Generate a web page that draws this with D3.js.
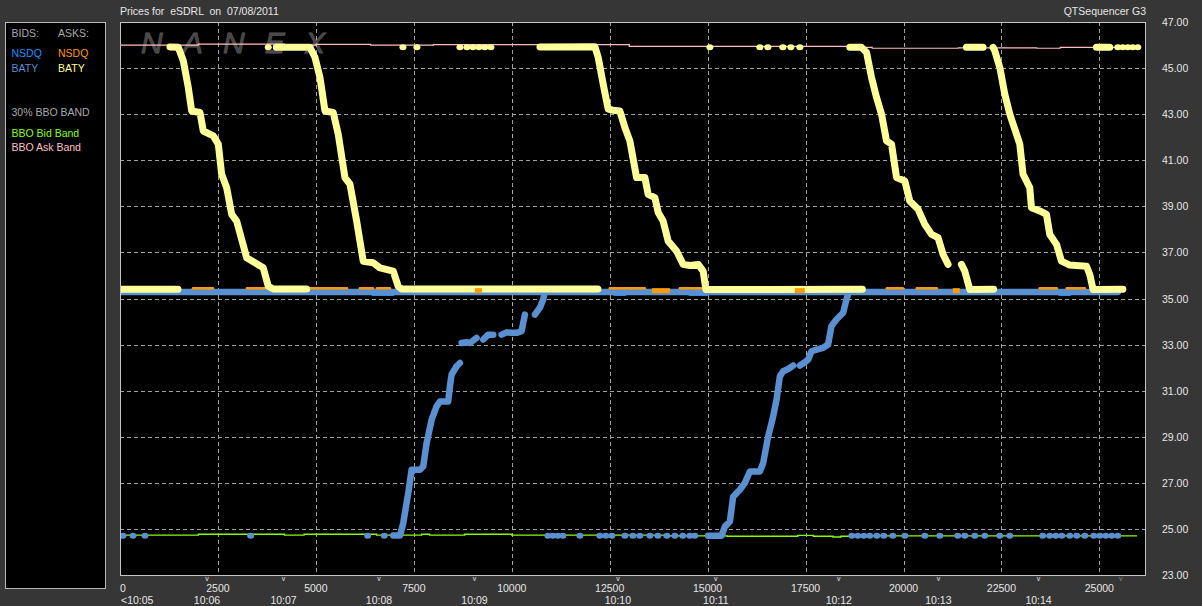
<!DOCTYPE html>
<html><head><meta charset="utf-8">
<script src="https://cdn.jsdelivr.net/npm/d3@7"></script>
<style>
html,body{margin:0;padding:0;background:#363636;}
svg{display:block;font-family:"Liberation Sans",Arial,sans-serif;}
</style></head><body>
<svg id="c" width="1202" height="606"></svg>
<script>
// ---------------- data ----------------
const titleText = "Prices for  eSDRL  on  07/08/2011";
const sourceText = "QTSequencer G3";
const yTicks = [23, 25, 27, 29, 31, 33, 35, 37, 39, 41, 43, 45, 47];
const xTicks = [0, 2500, 5000, 7500, 10000, 12500, 15000, 17500, 20000, 22500, 25000];
const timeMarkSeq = [2220, 4175, 6610, 9049, 12709, 15210, 18349, 20891, 23448, 25545];
const timeMarkLabels = ["10:06", "10:07", "10:08", "10:09", "10:10", "10:11", "10:12", "10:13", "10:14", ""];
const firstTimeLabel = "<10:05";

const legendBids = ["NSDQ", "BATY"];
const legendAsks = ["NSDQ", "BATY"];
const legendBands = ["BBO Bid Band", "BBO Ask Band"];

// BBO ask band (pink), step line
const bboAskBand = [[0,46.00],[2000,46.04],[4200,46.00],[5000,46.03],[6400,46.00],[8000,46.02],[13000,45.94],[18600,45.90],[19200,45.86],[21400,45.88],[23400,45.86],[24000,45.90],[25960,45.90]];
// BBO bid band (green), step line
const bboBidBand = [[0,24.73],[2000,24.77],[4200,24.73],[4700,24.77],[6550,24.73],[7700,24.77],[7900,24.73],[8800,24.77],[10000,24.73],[14000,24.70],[15500,24.68],[17300,24.72],[17700,24.68],[18200,24.65],[18400,24.68],[19000,24.70],[25960,24.70]];

// BATY ask (yellow) quotes, null = break
const batyAsk = [
  [0,35.40],[1480,35.40], null,
  [1276,45.92],[1488,45.90],[1615,45.32],[1743,44.16],[1830,43.14],[2042,43.07],[2126,42.27],[2381,42.06],[2509,41.70],[2595,40.39],[2723,39.81],[2851,38.65],[2978,38.36],[3233,36.77],[3445,36.55],[3657,36.33],[3785,35.53],[3912,35.41],[4765,35.41], null,
  [3990,45.90],[4849,45.90],[4976,45.47],[5104,44.60],[5232,43.14],[5443,43.07],[5571,42.13],[5742,40.25],[5870,39.96],[6041,38.36],[6209,36.62],[6464,36.55],[6635,36.33],[6975,36.19],[7102,35.53],[7189,35.41],[12200,35.41], null,
  [10720,45.92],[12122,45.93],[12206,45.47],[12334,44.30],[12461,43.22],[12589,43.17],[12760,43.14],[12888,42.42],[13015,41.84],[13186,40.25],[13398,40.25],[13482,39.52],[13653,39.38],[13738,38.73],[13865,38.36],[13993,37.49],[14207,37.06],[14376,36.48],[14547,36.43],[14759,36.48],[14886,36.19],[14955,35.39],[18950,35.40], null,
  [18630,45.90],[18928,45.90],[19056,45.68],[19183,44.60],[19311,43.73],[19439,43.00],[19566,41.84],[19694,41.70],[19822,40.25],[20034,40.10],[20161,39.23],[20373,38.87],[20544,38.22],[20715,37.78],[20883,37.64],[21011,36.91],[21138,36.48], null,
  [21479,36.48],[21564,36.19],[21692,35.39],[22300,35.40], null,
  [21607,45.90],[22031,45.90], null,
  [22287,45.90],[22330,45.75],[22458,45.03],[22585,43.87],[22713,43.00],[22841,42.35],[22968,41.70],[23052,40.39],[23223,39.81],[23266,38.94],[23478,38.80],[23649,38.65],[23734,37.78],[23905,37.35],[24033,36.62],[24245,36.45],[24671,36.40],[24755,36.04],[24839,35.39],[25600,35.40], null,
  [24925,45.90],[25265,45.90]
];
const batyAskDotSeq = [3785, 7222, 7579, 8677, 8855, 9008, 9161, 9314, 9467, 15057, 16333, 16537, 16920, 17124, 17354, 25470, 25597, 25725, 25852, 25980];
const batyAskDotPrice = 45.90;

// BATY bid (steel blue) quotes, null = break
const batyBid = [
  [0,35.28],[25470,35.28], null,
  [6975,24.71],[7146,24.71],[7230,25.25],[7357,26.55],[7444,27.57],[7656,27.57],[7740,27.71],[7827,28.73],[7955,29.74],[8082,30.32],[8166,30.53],[8378,30.53],[8422,31.19],[8465,31.70],[8593,32.06],[8677,32.20], null,
  [8720,33.07],[8848,33.10],[8932,33.07],[9103,33.29], null,
  [9272,33.22],[9399,33.43],[9527,33.43], null,
  [9741,33.43],[9868,33.53],[9996,33.51],[10124,33.51],[10251,33.58],[10292,33.94],[10336,34.30], null,
  [10591,34.30],[10718,34.60],[10803,34.96],[10846,35.30], null,
  [15014,24.70],[15356,24.70],[15440,25.10],[15568,25.32],[15651,26.40],[15822,26.70],[15950,26.99],[16078,27.49],[16333,27.49],[16418,27.86],[16545,29.01],[16673,29.88],[16759,30.61],[16844,31.62],[16928,31.84],[17055,31.94],[17183,32.09], null,
  [17354,32.09],[17482,32.23],[17566,32.35],[17652,32.71],[17779,32.78],[17948,32.86],[18075,33.00],[18160,33.80],[18288,34.09],[18459,34.38],[18544,34.96],[18611,35.32]
];
const batyBidDotSeq = [77, 332, 638, 3335, 6321, 6745, 10923, 11050, 11178, 11306, 11739, 12250, 12403, 12556, 12888, 13092, 13270, 13526, 13730, 13959, 14163, 14367, 14546, 14674, 18681, 18834, 18987, 19140, 19319, 19497, 19727, 20034, 20544, 20926, 21386, 21564, 21819, 22074, 22457, 22712, 23554, 23734, 23887, 24040, 24244, 24423, 24627, 24857, 25010, 25163, 25316, 25469];
const batyBidDotPrice = 24.70;

// NSDQ ask (orange) visible runs: [start, end, price]
const nsdqAskRuns = [[255,357,35.45],[1863,2373,35.45],[3241,3751,35.45],[4670,5793,35.45],[6125,6457,35.45],[6559,6890,35.45],[8855,9698,35.45],[12505,13398,35.45],[14291,14878,35.45],[16129,16511,35.45],[19574,19982,35.45],[20339,20850,35.45],[23478,23912,35.45],[24167,24627,35.45]];
const nsdqAskPatches = [[9060,9240,35.34],[13577,14036,35.34],[17226,17481,35.34],[21258,21437,35.34]];
// NSDQ bid (bright blue) visible runs
const nsdqBidRuns = [[6457,6967,35.20],[12632,12888,35.20],[14546,14980,35.20],[23989,24244,35.20]];

// ---------------- drawing ----------------
const W = 1202, H = 606;
const L = 120, R = 1146, T = 22, B = 575;
const C = {
  bg: "#363636", txt: "#e6e6e6", gray: "#a8a8a8", grid: "#a0a0a0", border: "#c4c4c4",
  yellow: "#ffff99", baty: "#5a8fd0", nsdqBid: "#1e90ff", orange: "#ff9a00",
  pink: "#ffc0c0", green: "#88ff00"
};
const svg = d3.select("#c");
svg.append("rect").attr("width", W).attr("height", H).attr("fill", C.bg);

const x = d3.scaleLinear().domain([0, 26190]).range([L, R]);
const y = d3.scaleLinear().domain([23, 47]).range([B, T]);

// title
svg.append("text").attr("x", L).attr("y", 15).attr("fill", C.txt)
  .attr("font-size", 10.5).style("white-space", "pre").text(titleText);
svg.append("text").attr("x", R).attr("y", 15).attr("fill", C.txt)
  .attr("font-size", 10.5).attr("text-anchor", "end").text(sourceText);

// legend panel
const lg = svg.append("g");
lg.append("rect").attr("x", 5.5).attr("y", 22.5).attr("width", 100).attr("height", 566)
  .attr("fill", "#000").attr("stroke", "#b8b8b8");
const lt = (tx, ty, s, col) => lg.append("text").attr("x", tx).attr("y", ty).attr("fill", col)
  .attr("font-size", 10.5).attr("dominant-baseline", "central").text(s);
lt(11.5, 32.5, "BIDS:", C.gray);
lt(58, 32.5, "ASKS:", C.gray);
lt(11.5, 52.5, legendBids[0], C.nsdqBid);
lt(58, 52.5, legendAsks[0], C.orange);
lt(11.5, 67.5, legendBids[1], C.baty);
lt(58, 67.5, legendAsks[1], C.yellow);
lt(11.5, 112, "30% BBO BAND", C.gray);
lt(11.5, 132.5, legendBands[0], C.green);
lt(11.5, 147, legendBands[1], C.pink);

// plot area
svg.append("rect").attr("x", L).attr("y", T).attr("width", R - L).attr("height", B - T).attr("fill", "#000");

// watermark
svg.append("text").attr("x", 141).attr("y", 53).attr("font-size", 30).attr("font-style", "italic")
  .attr("fill", "#444444").attr("stroke", "#555555").attr("stroke-width", 0.8)
  .attr("textLength", 184).attr("lengthAdjust", "spacing").text("NANEX");

// grid
const g = svg.append("g");
g.selectAll(".hg").data(yTicks.filter(v => v > 23 && v < 47)).join("line")
  .attr("x1", L).attr("x2", R).attr("y1", d => Math.round(y(d)) + 0.5).attr("y2", d => Math.round(y(d)) + 0.5)
  .attr("stroke", C.grid).attr("stroke-dasharray", "4,3");
g.selectAll(".vg").data(xTicks.filter(v => v > 0)).join("line")
  .attr("y1", T).attr("y2", B).attr("x1", d => Math.round(x(d)) + 0.5).attr("x2", d => Math.round(x(d)) + 0.5)
  .attr("stroke", C.grid).attr("stroke-dasharray", "4,3");

const clip = svg.append("clipPath").attr("id", "pc");
clip.append("rect").attr("x", L).attr("y", T).attr("width", R - L).attr("height", B - T);
const P = svg.append("g").attr("clip-path", "url(#pc)");

const line = d3.line().defined(d => d !== null).x(d => x(d[0])).y(d => y(d[1]));
const stepLine = d3.line().curve(d3.curveStepAfter).x(d => x(d[0])).y(d => y(d[1]));
const runLine = r => line([[r[0], r[2]], [r[1], r[2]]]);

// bands
P.append("path").attr("d", stepLine(bboAskBand)).attr("fill", "none").attr("stroke", C.pink).attr("stroke-width", 1.2);
P.append("path").attr("d", stepLine(bboBidBand)).attr("fill", "none").attr("stroke", C.green).attr("stroke-width", 1.4);

// NSDQ bid
P.selectAll(".nb").data(nsdqBidRuns).join("path").attr("d", runLine)
  .attr("stroke", C.nsdqBid).attr("stroke-width", 4).attr("stroke-linecap", "round").attr("fill", "none");

// BATY bid
P.append("path").attr("d", line(batyBid)).attr("fill", "none").attr("stroke", C.baty)
  .attr("stroke-width", 6.5).attr("stroke-linecap", "round").attr("stroke-linejoin", "round");
P.selectAll(".bd").data(batyBidDotSeq).join("ellipse")
  .attr("cx", d => x(d)).attr("cy", y(batyBidDotPrice)).attr("rx", 3.5).attr("ry", 3).attr("fill", C.baty);

// NSDQ ask slivers
P.selectAll(".na").data(nsdqAskRuns).join("path").attr("d", runLine)
  .attr("stroke", C.orange).attr("stroke-width", 2.5).attr("stroke-linecap", "round").attr("fill", "none");

// BATY ask
P.append("path").attr("d", line(batyAsk)).attr("fill", "none").attr("stroke", C.yellow)
  .attr("stroke-width", 7).attr("stroke-linecap", "round").attr("stroke-linejoin", "round");
P.selectAll(".ad").data(batyAskDotSeq).join("ellipse")
  .attr("cx", d => x(d)).attr("cy", y(batyAskDotPrice)).attr("rx", 3.5).attr("ry", 3).attr("fill", C.yellow);

// NSDQ ask patches on top
P.selectAll(".np").data(nsdqAskPatches).join("path").attr("d", runLine)
  .attr("stroke", C.orange).attr("stroke-width", 5).attr("stroke-linecap", "butt").attr("fill", "none");

// border
svg.append("rect").attr("x", L + 0.5).attr("y", T + 0.5).attr("width", R - L - 1).attr("height", B - T)
  .attr("fill", "none").attr("stroke", C.border);

// right axis labels
svg.selectAll(".yl").data(yTicks).join("text")
  .attr("x", 1162).attr("y", d => y(d)).attr("dominant-baseline", "central")
  .attr("fill", C.txt).attr("font-size", 10.5).text(d => d.toFixed(2));

// bottom axis labels
svg.selectAll(".xl").data(xTicks).join("text")
  .attr("x", d => d === 0 ? L : x(d)).attr("y", 588).attr("dominant-baseline", "central")
  .attr("text-anchor", d => d === 0 ? "start" : "middle")
  .attr("fill", C.txt).attr("font-size", 10.5).text(d => d);

// time markers
svg.selectAll(".tv").data(timeMarkSeq).join("text")
  .attr("x", d => x(d)).attr("y", 578).attr("dominant-baseline", "central").attr("text-anchor", "middle")
  .attr("fill", (d, i) => timeMarkLabels[i] === "" ? "#8a8a8a" : C.txt).attr("font-size", 7).text("v");
svg.selectAll(".tl").data(timeMarkSeq).join("text")
  .attr("x", d => x(d)).attr("y", 600).attr("dominant-baseline", "central").attr("text-anchor", "middle")
  .attr("fill", C.txt).attr("font-size", 10.5).text((d, i) => timeMarkLabels[i]);
svg.append("text").attr("x", L + 1).attr("y", 600).attr("dominant-baseline", "central")
  .attr("fill", C.txt).attr("font-size", 10.5).text(firstTimeLabel);
</script>
</body></html>
